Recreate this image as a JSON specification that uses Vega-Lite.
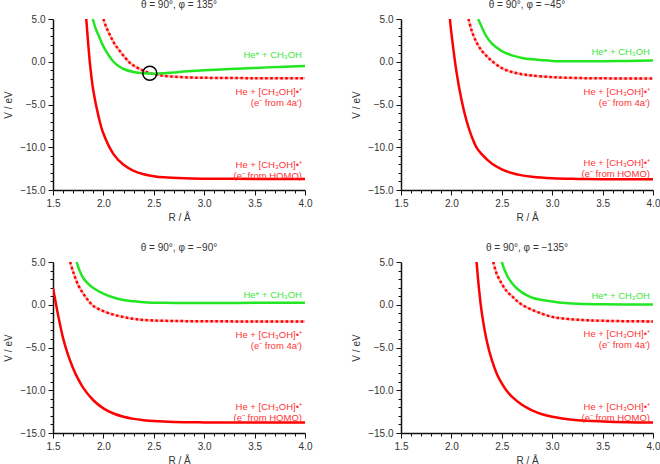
{
"$schema":"https://vega.github.io/schema/vega-lite/v6.json",
"background":"white",
"padding":{"left":3,"top":0,"right":0,"bottom":0},
"datasets":{
"curves":[
{"p":"TL","s":"g","R":1.895,"V":5},{"p":"TL","s":"g","R":1.92,"V":4.0},{"p":"TL","s":"g","R":1.955,"V":3.0},{"p":"TL","s":"g","R":2.0,"V":1.8},{"p":"TL","s":"g","R":2.05,"V":0.8},{"p":"TL","s":"g","R":2.1,"V":0.0},{"p":"TL","s":"g","R":2.15,"V":-0.5},{"p":"TL","s":"g","R":2.2,"V":-0.85},{"p":"TL","s":"g","R":2.3,"V":-1.2},{"p":"TL","s":"g","R":2.4,"V":-1.35},{"p":"TL","s":"g","R":2.5,"V":-1.4},{"p":"TL","s":"g","R":2.6,"V":-1.35},{"p":"TL","s":"g","R":2.7,"V":-1.25},{"p":"TL","s":"g","R":2.8,"V":-1.15},{"p":"TL","s":"g","R":3.0,"V":-1.0},{"p":"TL","s":"g","R":3.25,"V":-0.85},{"p":"TL","s":"g","R":3.5,"V":-0.72},{"p":"TL","s":"g","R":3.75,"V":-0.6},{"p":"TL","s":"g","R":4.0,"V":-0.5},
{"p":"TL","s":"d","R":2.0,"V":5},{"p":"TL","s":"d","R":2.03,"V":4.0},{"p":"TL","s":"d","R":2.07,"V":3.0},{"p":"TL","s":"d","R":2.11,"V":2.1},{"p":"TL","s":"d","R":2.15,"V":1.45},{"p":"TL","s":"d","R":2.2,"V":0.7},{"p":"TL","s":"d","R":2.26,"V":-0.1},{"p":"TL","s":"d","R":2.3,"V":-0.45},{"p":"TL","s":"d","R":2.37,"V":-0.9},{"p":"TL","s":"d","R":2.45,"V":-1.3},{"p":"TL","s":"d","R":2.55,"V":-1.55},{"p":"TL","s":"d","R":2.65,"V":-1.7},{"p":"TL","s":"d","R":2.8,"V":-1.82},{"p":"TL","s":"d","R":3.0,"V":-1.88},{"p":"TL","s":"d","R":3.5,"V":-1.92},{"p":"TL","s":"d","R":4.0,"V":-1.93},
{"p":"TL","s":"h","R":1.83,"V":5},{"p":"TL","s":"h","R":1.85,"V":2.0},{"p":"TL","s":"h","R":1.87,"V":-0.6},{"p":"TL","s":"h","R":1.9,"V":-3.4},{"p":"TL","s":"h","R":1.95,"V":-6.3},{"p":"TL","s":"h","R":2.0,"V":-8.4},{"p":"TL","s":"h","R":2.1,"V":-10.8},{"p":"TL","s":"h","R":2.2,"V":-12.05},{"p":"TL","s":"h","R":2.3,"V":-12.75},{"p":"TL","s":"h","R":2.4,"V":-13.15},{"p":"TL","s":"h","R":2.5,"V":-13.38},{"p":"TL","s":"h","R":2.6,"V":-13.52},{"p":"TL","s":"h","R":2.8,"V":-13.64},{"p":"TL","s":"h","R":3.0,"V":-13.68},{"p":"TL","s":"h","R":3.5,"V":-13.7},{"p":"TL","s":"h","R":4.0,"V":-13.7},
{"p":"TR","s":"g","R":2.265,"V":5},{"p":"TR","s":"g","R":2.3,"V":4.1},{"p":"TR","s":"g","R":2.35,"V":2.9},{"p":"TR","s":"g","R":2.4,"V":2.15},{"p":"TR","s":"g","R":2.45,"V":1.65},{"p":"TR","s":"g","R":2.5,"V":1.25},{"p":"TR","s":"g","R":2.6,"V":0.75},{"p":"TR","s":"g","R":2.7,"V":0.45},{"p":"TR","s":"g","R":2.8,"V":0.28},{"p":"TR","s":"g","R":2.9,"V":0.18},{"p":"TR","s":"g","R":3.0,"V":0.1},{"p":"TR","s":"g","R":3.2,"V":0.05},{"p":"TR","s":"g","R":3.5,"V":0.07},{"p":"TR","s":"g","R":3.75,"V":0.1},{"p":"TR","s":"g","R":4.0,"V":0.15},
{"p":"TR","s":"d","R":2.17,"V":5},{"p":"TR","s":"d","R":2.2,"V":3.68},{"p":"TR","s":"d","R":2.25,"V":2.25},{"p":"TR","s":"d","R":2.3,"V":1.3},{"p":"TR","s":"d","R":2.35,"V":0.66},{"p":"TR","s":"d","R":2.4,"V":0.1},{"p":"TR","s":"d","R":2.5,"V":-0.75},{"p":"TR","s":"d","R":2.6,"V":-1.2},{"p":"TR","s":"d","R":2.7,"V":-1.45},{"p":"TR","s":"d","R":2.8,"V":-1.62},{"p":"TR","s":"d","R":3.0,"V":-1.8},{"p":"TR","s":"d","R":3.25,"V":-1.9},{"p":"TR","s":"d","R":3.5,"V":-1.94},{"p":"TR","s":"d","R":4.0,"V":-1.97},
{"p":"TR","s":"h","R":1.985,"V":5},{"p":"TR","s":"h","R":2.0,"V":3.35},{"p":"TR","s":"h","R":2.05,"V":-1.15},{"p":"TR","s":"h","R":2.1,"V":-4.45},{"p":"TR","s":"h","R":2.15,"V":-6.9},{"p":"TR","s":"h","R":2.2,"V":-8.7},{"p":"TR","s":"h","R":2.25,"V":-10.04},{"p":"TR","s":"h","R":2.3,"V":-10.8},{"p":"TR","s":"h","R":2.4,"V":-11.9},{"p":"TR","s":"h","R":2.5,"V":-12.58},{"p":"TR","s":"h","R":2.6,"V":-13.02},{"p":"TR","s":"h","R":2.7,"V":-13.29},{"p":"TR","s":"h","R":2.8,"V":-13.46},{"p":"TR","s":"h","R":3.0,"V":-13.63},{"p":"TR","s":"h","R":3.25,"V":-13.7},{"p":"TR","s":"h","R":3.5,"V":-13.73},{"p":"TR","s":"h","R":4.0,"V":-13.75},
{"p":"BL","s":"g","R":1.735,"V":5},{"p":"BL","s":"g","R":1.76,"V":4.1},{"p":"BL","s":"g","R":1.8,"V":3.13},{"p":"BL","s":"g","R":1.85,"V":2.45},{"p":"BL","s":"g","R":1.9,"V":1.96},{"p":"BL","s":"g","R":2.0,"V":1.3},{"p":"BL","s":"g","R":2.1,"V":0.85},{"p":"BL","s":"g","R":2.2,"V":0.55},{"p":"BL","s":"g","R":2.3,"V":0.4},{"p":"BL","s":"g","R":2.4,"V":0.3},{"p":"BL","s":"g","R":2.6,"V":0.22},{"p":"BL","s":"g","R":3.0,"V":0.2},{"p":"BL","s":"g","R":3.5,"V":0.22},{"p":"BL","s":"g","R":4.0,"V":0.22},
{"p":"BL","s":"d","R":1.67,"V":5},{"p":"BL","s":"d","R":1.7,"V":3.85},{"p":"BL","s":"d","R":1.75,"V":2.3},{"p":"BL","s":"d","R":1.8,"V":1.3},{"p":"BL","s":"d","R":1.85,"V":0.5},{"p":"BL","s":"d","R":1.9,"V":-0.15},{"p":"BL","s":"d","R":2.0,"V":-0.75},{"p":"BL","s":"d","R":2.1,"V":-1.16},{"p":"BL","s":"d","R":2.2,"V":-1.45},{"p":"BL","s":"d","R":2.3,"V":-1.65},{"p":"BL","s":"d","R":2.4,"V":-1.78},{"p":"BL","s":"d","R":2.6,"V":-1.88},{"p":"BL","s":"d","R":3.0,"V":-1.93},{"p":"BL","s":"d","R":3.5,"V":-1.95},{"p":"BL","s":"d","R":4.0,"V":-1.95},
{"p":"BL","s":"h","R":1.5,"V":2.0},{"p":"BL","s":"h","R":1.55,"V":-1.18},{"p":"BL","s":"h","R":1.6,"V":-3.9},{"p":"BL","s":"h","R":1.65,"V":-5.9},{"p":"BL","s":"h","R":1.7,"V":-7.45},{"p":"BL","s":"h","R":1.75,"V":-8.7},{"p":"BL","s":"h","R":1.8,"V":-9.72},{"p":"BL","s":"h","R":1.9,"V":-11.17},{"p":"BL","s":"h","R":2.0,"V":-12.12},{"p":"BL","s":"h","R":2.1,"V":-12.72},{"p":"BL","s":"h","R":2.2,"V":-13.1},{"p":"BL","s":"h","R":2.3,"V":-13.35},{"p":"BL","s":"h","R":2.4,"V":-13.5},{"p":"BL","s":"h","R":2.5,"V":-13.6},{"p":"BL","s":"h","R":2.7,"V":-13.71},{"p":"BL","s":"h","R":3.0,"V":-13.76},{"p":"BL","s":"h","R":3.5,"V":-13.78},{"p":"BL","s":"h","R":4.0,"V":-13.78},
{"p":"BR","s":"g","R":2.5,"V":5},{"p":"BR","s":"g","R":2.53,"V":4.0},{"p":"BR","s":"g","R":2.565,"V":3.13},{"p":"BR","s":"g","R":2.6,"V":2.55},{"p":"BR","s":"g","R":2.65,"V":1.9},{"p":"BR","s":"g","R":2.7,"V":1.45},{"p":"BR","s":"g","R":2.75,"V":1.1},{"p":"BR","s":"g","R":2.81,"V":0.79},{"p":"BR","s":"g","R":2.9,"V":0.55},{"p":"BR","s":"g","R":3.0,"V":0.37},{"p":"BR","s":"g","R":3.1,"V":0.22},{"p":"BR","s":"g","R":3.25,"V":0.12},{"p":"BR","s":"g","R":3.5,"V":0.05},{"p":"BR","s":"g","R":4.0,"V":0.02},
{"p":"BR","s":"d","R":2.415,"V":5},{"p":"BR","s":"d","R":2.45,"V":3.6},{"p":"BR","s":"d","R":2.5,"V":2.45},{"p":"BR","s":"d","R":2.55,"V":1.57},{"p":"BR","s":"d","R":2.6,"V":1.0},{"p":"BR","s":"d","R":2.65,"V":0.45},{"p":"BR","s":"d","R":2.7,"V":0.0},{"p":"BR","s":"d","R":2.8,"V":-0.6},{"p":"BR","s":"d","R":2.9,"V":-1.05},{"p":"BR","s":"d","R":3.0,"V":-1.42},{"p":"BR","s":"d","R":3.1,"V":-1.6},{"p":"BR","s":"d","R":3.25,"V":-1.75},{"p":"BR","s":"d","R":3.5,"V":-1.88},{"p":"BR","s":"d","R":4.0,"V":-1.95},
{"p":"BR","s":"h","R":2.25,"V":5},{"p":"BR","s":"h","R":2.27,"V":2.3},{"p":"BR","s":"h","R":2.3,"V":-0.8},{"p":"BR","s":"h","R":2.35,"V":-4.17},{"p":"BR","s":"h","R":2.4,"V":-6.43},{"p":"BR","s":"h","R":2.45,"V":-8.06},{"p":"BR","s":"h","R":2.5,"V":-9.2},{"p":"BR","s":"h","R":2.55,"V":-10.1},{"p":"BR","s":"h","R":2.6,"V":-10.74},{"p":"BR","s":"h","R":2.7,"V":-11.7},{"p":"BR","s":"h","R":2.8,"V":-12.35},{"p":"BR","s":"h","R":2.9,"V":-12.8},{"p":"BR","s":"h","R":3.0,"V":-13.1},{"p":"BR","s":"h","R":3.1,"V":-13.3},{"p":"BR","s":"h","R":3.25,"V":-13.5},{"p":"BR","s":"h","R":3.5,"V":-13.65},{"p":"BR","s":"h","R":3.75,"V":-13.74},{"p":"BR","s":"h","R":4.0,"V":-13.78}
],
"labels":[
{"p":"TL","k":"g","R":3.97,"V":0.75,"t":"He* + CH₃OH"},{"p":"TL","k":"d","R":3.97,"V":-3.5,"t":"He + [CH₃OH]•⁺\n(e⁻ from 4a′)"},{"p":"TL","k":"h","R":3.97,"V":-12.1,"t":"He + [CH₃OH]•⁺\n(e⁻ from HOMO)"},
{"p":"TR","k":"g","R":3.97,"V":1.1,"t":"He* + CH₃OH"},{"p":"TR","k":"d","R":3.97,"V":-3.5,"t":"He + [CH₃OH]•⁺\n(e⁻ from 4a′)"},{"p":"TR","k":"h","R":3.97,"V":-11.9,"t":"He + [CH₃OH]•⁺\n(e⁻ from HOMO)"},
{"p":"BL","k":"g","R":3.97,"V":1.1,"t":"He* + CH₃OH"},{"p":"BL","k":"d","R":3.97,"V":-3.5,"t":"He + [CH₃OH]•⁺\n(e⁻ from 4a′)"},{"p":"BL","k":"h","R":3.97,"V":-11.95,"t":"He + [CH₃OH]•⁺\n(e⁻ from HOMO)"},
{"p":"BR","k":"g","R":3.97,"V":1.0,"t":"He* + CH₃OH"},{"p":"BR","k":"d","R":3.97,"V":-3.4,"t":"He + [CH₃OH]•⁺\n(e⁻ from 4a′)"},{"p":"BR","k":"h","R":3.97,"V":-11.95,"t":"He + [CH₃OH]•⁺\n(e⁻ from HOMO)"}
],
"markers":[{"p":"TL","R":2.46,"V":-1.35}]
},
"vconcat":[
{"spacing":39,"hconcat":[
{"title":"θ = 90°, φ = 135°","width":252,"height":171,"data":{"name":"curves"},
"encoding":{
"x":{"field":"R","type":"quantitative","title":"R / Å","scale":{"domain":[1.5,4],"nice":false,"zero":false},"axis":{"values":[1.5,1.6,1.7,1.8,1.9,2.0,2.1,2.2,2.3,2.4,2.5,2.6,2.7,2.8,2.9,3.0,3.1,3.2,3.3,3.4,3.5,3.6,3.7,3.8,3.9,4.0],"labelExpr":"abs(round(datum.value*10))%5==0 ? format(datum.value,'.1f') : ''","tickSize":{"condition":{"test":"abs(round(datum.value*10))%5==0","value":5},"value":3}}},
"y":{"field":"V","type":"quantitative","title":"V / eV","scale":{"domain":[-15,5],"nice":false,"zero":false},"axis":{"values":[-15,-14,-13,-12,-11,-10,-9,-8,-7,-6,-5,-4,-3,-2,-1,0,1,2,3,4,5],"labelExpr":"abs(round(datum.value))%5==0 ? format(datum.value,'.1f') : ''","tickSize":{"condition":{"test":"abs(round(datum.value))%5==0","value":5},"value":3}}}},
"layer":[
{"mark":{"type":"rule","color":"#d9d9d9","strokeWidth":1.5},"transform":[{"filter":"datum.s=='g'"},{"aggregate":[{"op":"count","as":"n"}]}],"encoding":{"x":{"datum":1.5},"x2":{"datum":4},"y":{"datum":0}}},
{"transform":[{"filter":"datum.p=='TL' && datum.s=='d'"}],"mark":{"type":"line","color":"#ffb0b0","strokeWidth":2.5,"interpolate":"catmull-rom","clip":true}},
{"transform":[{"filter":"datum.p=='TL' && datum.s=='d'"}],"mark":{"type":"line","color":"#ff0000","strokeWidth":2.5,"strokeDash":[2.5,2.5],"interpolate":"catmull-rom","clip":true}},
{"transform":[{"filter":"datum.p=='TL' && datum.s=='g'"}],"mark":{"type":"line","color":"#22e622","strokeWidth":2.5,"interpolate":"catmull-rom","clip":true}},
{"transform":[{"filter":"datum.p=='TL' && datum.s=='h'"}],"mark":{"type":"line","color":"#ff0000","strokeWidth":2.5,"interpolate":"catmull-rom","clip":true}},
{"data":{"name":"markers"},"transform":[{"filter":"datum.p=='TL'"}],"mark":{"type":"point","shape":"circle","filled":false,"stroke":"#000","strokeWidth":1.5,"size":196,"opacity":1}},
{"data":{"name":"labels"},"transform":[{"filter":"datum.p=='TL'"}],"mark":{"type":"text","align":"right","baseline":"middle","lineBreak":"\n","lineHeight":11,"fontSize":9.5,"font":"Liberation Sans"},"encoding":{"text":{"field":"t"},"color":{"field":"k","type":"nominal","scale":{"domain":["g","d","h"],"range":["#3de83d","#ff3333","#ff3333"]},"legend":null}}}
]},
{"title":"θ = 90°, φ = −45°","width":252,"height":171,"data":{"name":"curves"},
"encoding":{
"x":{"field":"R","type":"quantitative","title":"R / Å","scale":{"domain":[1.5,4],"nice":false,"zero":false},"axis":{"values":[1.5,1.6,1.7,1.8,1.9,2.0,2.1,2.2,2.3,2.4,2.5,2.6,2.7,2.8,2.9,3.0,3.1,3.2,3.3,3.4,3.5,3.6,3.7,3.8,3.9,4.0],"labelExpr":"abs(round(datum.value*10))%5==0 ? format(datum.value,'.1f') : ''","tickSize":{"condition":{"test":"abs(round(datum.value*10))%5==0","value":5},"value":3}}},
"y":{"field":"V","type":"quantitative","title":"V / eV","scale":{"domain":[-15,5],"nice":false,"zero":false},"axis":{"values":[-15,-14,-13,-12,-11,-10,-9,-8,-7,-6,-5,-4,-3,-2,-1,0,1,2,3,4,5],"labelExpr":"abs(round(datum.value))%5==0 ? format(datum.value,'.1f') : ''","tickSize":{"condition":{"test":"abs(round(datum.value))%5==0","value":5},"value":3}}}},
"layer":[
{"transform":[{"filter":"datum.p=='TR' && datum.s=='d'"}],"mark":{"type":"line","color":"#ffb0b0","strokeWidth":2.5,"interpolate":"catmull-rom","clip":true}},
{"transform":[{"filter":"datum.p=='TR' && datum.s=='d'"}],"mark":{"type":"line","color":"#ff0000","strokeWidth":2.5,"strokeDash":[2.5,2.5],"interpolate":"catmull-rom","clip":true}},
{"transform":[{"filter":"datum.p=='TR' && datum.s=='g'"}],"mark":{"type":"line","color":"#22e622","strokeWidth":2.5,"interpolate":"catmull-rom","clip":true}},
{"transform":[{"filter":"datum.p=='TR' && datum.s=='h'"}],"mark":{"type":"line","color":"#ff0000","strokeWidth":2.5,"interpolate":"catmull-rom","clip":true}},
{"data":{"name":"labels"},"transform":[{"filter":"datum.p=='TR'"}],"mark":{"type":"text","align":"right","baseline":"middle","lineBreak":"\n","lineHeight":11,"fontSize":9.5,"font":"Liberation Sans"},"encoding":{"text":{"field":"t"},"color":{"field":"k","type":"nominal","scale":{"domain":["g","d","h"],"range":["#3de83d","#ff3333","#ff3333"]},"legend":null}}}
]}
]},
{"spacing":39,"hconcat":[
{"title":"θ = 90°, φ = −90°","width":252,"height":171,"data":{"name":"curves"},
"encoding":{
"x":{"field":"R","type":"quantitative","title":"R / Å","scale":{"domain":[1.5,4],"nice":false,"zero":false},"axis":{"values":[1.5,1.6,1.7,1.8,1.9,2.0,2.1,2.2,2.3,2.4,2.5,2.6,2.7,2.8,2.9,3.0,3.1,3.2,3.3,3.4,3.5,3.6,3.7,3.8,3.9,4.0],"labelExpr":"abs(round(datum.value*10))%5==0 ? format(datum.value,'.1f') : ''","tickSize":{"condition":{"test":"abs(round(datum.value*10))%5==0","value":5},"value":3}}},
"y":{"field":"V","type":"quantitative","title":"V / eV","scale":{"domain":[-15,5],"nice":false,"zero":false},"axis":{"values":[-15,-14,-13,-12,-11,-10,-9,-8,-7,-6,-5,-4,-3,-2,-1,0,1,2,3,4,5],"labelExpr":"abs(round(datum.value))%5==0 ? format(datum.value,'.1f') : ''","tickSize":{"condition":{"test":"abs(round(datum.value))%5==0","value":5},"value":3}}}},
"layer":[
{"transform":[{"filter":"datum.p=='BL' && datum.s=='d'"}],"mark":{"type":"line","color":"#ffb0b0","strokeWidth":2.5,"interpolate":"catmull-rom","clip":true}},
{"transform":[{"filter":"datum.p=='BL' && datum.s=='d'"}],"mark":{"type":"line","color":"#ff0000","strokeWidth":2.5,"strokeDash":[2.5,2.5],"interpolate":"catmull-rom","clip":true}},
{"transform":[{"filter":"datum.p=='BL' && datum.s=='g'"}],"mark":{"type":"line","color":"#22e622","strokeWidth":2.5,"interpolate":"catmull-rom","clip":true}},
{"transform":[{"filter":"datum.p=='BL' && datum.s=='h'"}],"mark":{"type":"line","color":"#ff0000","strokeWidth":2.5,"interpolate":"catmull-rom","clip":true}},
{"data":{"name":"labels"},"transform":[{"filter":"datum.p=='BL'"}],"mark":{"type":"text","align":"right","baseline":"middle","lineBreak":"\n","lineHeight":11,"fontSize":9.5,"font":"Liberation Sans"},"encoding":{"text":{"field":"t"},"color":{"field":"k","type":"nominal","scale":{"domain":["g","d","h"],"range":["#3de83d","#ff3333","#ff3333"]},"legend":null}}}
]},
{"title":"θ = 90°, φ = −135°","width":252,"height":171,"data":{"name":"curves"},
"encoding":{
"x":{"field":"R","type":"quantitative","title":"R / Å","scale":{"domain":[1.5,4],"nice":false,"zero":false},"axis":{"values":[1.5,1.6,1.7,1.8,1.9,2.0,2.1,2.2,2.3,2.4,2.5,2.6,2.7,2.8,2.9,3.0,3.1,3.2,3.3,3.4,3.5,3.6,3.7,3.8,3.9,4.0],"labelExpr":"abs(round(datum.value*10))%5==0 ? format(datum.value,'.1f') : ''","tickSize":{"condition":{"test":"abs(round(datum.value*10))%5==0","value":5},"value":3}}},
"y":{"field":"V","type":"quantitative","title":"V / eV","scale":{"domain":[-15,5],"nice":false,"zero":false},"axis":{"values":[-15,-14,-13,-12,-11,-10,-9,-8,-7,-6,-5,-4,-3,-2,-1,0,1,2,3,4,5],"labelExpr":"abs(round(datum.value))%5==0 ? format(datum.value,'.1f') : ''","tickSize":{"condition":{"test":"abs(round(datum.value))%5==0","value":5},"value":3}}}},
"layer":[
{"transform":[{"filter":"datum.p=='BR' && datum.s=='d'"}],"mark":{"type":"line","color":"#ffb0b0","strokeWidth":2.5,"interpolate":"catmull-rom","clip":true}},
{"transform":[{"filter":"datum.p=='BR' && datum.s=='d'"}],"mark":{"type":"line","color":"#ff0000","strokeWidth":2.5,"strokeDash":[2.5,2.5],"interpolate":"catmull-rom","clip":true}},
{"transform":[{"filter":"datum.p=='BR' && datum.s=='g'"}],"mark":{"type":"line","color":"#22e622","strokeWidth":2.5,"interpolate":"catmull-rom","clip":true}},
{"transform":[{"filter":"datum.p=='BR' && datum.s=='h'"}],"mark":{"type":"line","color":"#ff0000","strokeWidth":2.5,"interpolate":"catmull-rom","clip":true}},
{"data":{"name":"labels"},"transform":[{"filter":"datum.p=='BR'"}],"mark":{"type":"text","align":"right","baseline":"middle","lineBreak":"\n","lineHeight":11,"fontSize":9.5,"font":"Liberation Sans"},"encoding":{"text":{"field":"t"},"color":{"field":"k","type":"nominal","scale":{"domain":["g","d","h"],"range":["#3de83d","#ff3333","#ff3333"]},"legend":null}}}
]}
]}
],
"spacing":21,
"config":{
"view":{"stroke":null},
"font":"Liberation Sans",
"title":{"fontSize":10,"fontWeight":"normal","color":"#333","font":"Liberation Sans","offset":4},
"axis":{"grid":false,"domainColor":"#111","domainWidth":1.5,"tickColor":"#111","tickWidth":1,"labelFont":"Liberation Sans","labelFontSize":10,"labelColor":"#333","titleFont":"Liberation Sans","titleFontSize":10,"titleFontWeight":"normal","titleColor":"#333","labelPadding":3},
"axisX":{"labelFlush":false,"titlePadding":4},
"axisY":{"titlePadding":6}
}
}
